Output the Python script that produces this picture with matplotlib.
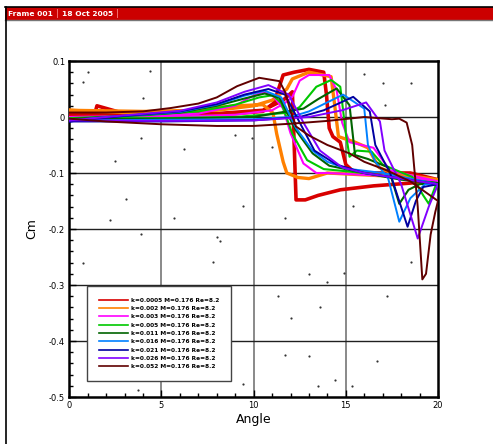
import numpy as np
import matplotlib.pyplot as plt
from matplotlib.patches import Rectangle
from matplotlib.lines import Line2D

# loops: upstroke 0 -> 20 then downstroke 20 -> 0
red_a = [0, 1.4, 1.5, 3, 6, 9, 10.5, 11.1, 11.4, 11.6, 12.2, 13.0, 13.8, 13.95, 14.1, 14.3, 14.7, 15.0, 15.5, 17, 18.5, 20,
         18.5, 16.5, 14.7, 13.5, 12.8, 12.3, 12.2, 12.1, 11.6, 10.5, 8, 4, 0]
red_c = [0.008, 0.008, 0.02, 0.006, 0.005, 0.006, 0.01, 0.025, 0.055, 0.075, 0.08, 0.085, 0.08, 0.04, -0.02, -0.035, -0.045, -0.085, -0.1, -0.1, -0.1, -0.112,
         -0.118, -0.123, -0.13, -0.14, -0.148, -0.148, -0.05, 0.045, 0.03, 0.012, 0.006, 0.004, 0.005]

orange_a = [0, 4, 8, 10, 11, 11.8, 12.1, 13, 14.2, 14.4, 14.6, 15.5, 16.2, 16.8, 17.5, 20,
            17, 14, 13, 12.4, 11.8, 11.6, 11.25, 11.05, 10.5, 9, 6, 3, 0]
orange_c = [0.012, 0.01, 0.012, 0.02, 0.03, 0.05, 0.068, 0.08, 0.072, 0.02, -0.035, -0.045, -0.055, -0.09, -0.1, -0.112,
            -0.105, -0.1, -0.11, -0.108, -0.1, -0.08, -0.03, 0.007, 0.022, 0.02, 0.01, 0.008, 0.012]

magenta_a = [0, 5, 9, 11, 11.7, 12.1, 12.5, 13.0, 14.1, 14.5, 14.8, 15.2, 16.5, 17.4, 18, 20,
             17, 14, 13.4, 12.7, 12.0, 11.6, 11.0, 10.5, 9.8, 9, 7, 4, 0]
magenta_c = [0.0, 0.0, 0.004, 0.012, 0.025, 0.036, 0.065, 0.075, 0.075, 0.048, -0.01, -0.045, -0.055, -0.095, -0.1, -0.115,
             -0.105, -0.1, -0.1, -0.083, -0.029, 0.015, 0.04, 0.045, 0.035, 0.02, 0.006, 0.002, 0.0]

green_a = [0, 5, 9, 12, 12.5, 13.4, 14.2, 14.7, 15.0, 15.2, 15.6, 16.4, 17.0, 18.6, 19.2, 19.5, 19.9, 20,
           18, 16, 13.8, 12.9, 12.1, 11.5, 11.05, 10.3, 9, 7, 4, 0]
green_c = [-0.002, -0.002, 0.0, 0.008, 0.018, 0.054, 0.066, 0.054, -0.029, -0.071, -0.06, -0.062, -0.085, -0.107, -0.14, -0.155, -0.12, -0.118,
           -0.11, -0.1, -0.093, -0.077, -0.03, 0.025, 0.039, 0.035, 0.022, 0.01, 0.003, -0.002]

dkgreen_a = [0, 5, 10, 12.7, 13.5, 14.5, 15.2, 15.5, 16.2, 17.3, 17.9, 18.4, 19.0, 20,
             18, 16, 14.1, 13.2, 12.3, 11.4, 10.6, 9.5, 8, 6, 3, 0]
dkgreen_c = [-0.004, -0.003, 0.0, 0.015, 0.032, 0.051, 0.021, -0.068, -0.075, -0.09, -0.155, -0.13, -0.12, -0.118,
             -0.112, -0.1, -0.087, -0.065, -0.024, 0.034, 0.042, 0.033, 0.02, 0.008, 0.002, -0.004]

ltblue_a = [0, 5, 10, 12, 13, 14.85, 16.0, 16.2, 16.6, 17.3, 17.9, 18.5, 19.3, 20,
            17, 15, 14, 13.2, 12.3, 11.5, 10.6, 9.5, 8, 6, 3, 0]
ltblue_c = [-0.006, -0.005, -0.004, 0.0, 0.01, 0.04, 0.015, -0.05, -0.08, -0.11, -0.187, -0.145, -0.12, -0.12,
            -0.1, -0.092, -0.08, -0.06, -0.02, 0.035, 0.047, 0.038, 0.022, 0.009, 0.002, -0.006]

blue_a = [0, 5, 10, 12.5, 13.8, 15.4, 16.3, 16.6, 17.4, 18.35, 18.8, 19.2, 20,
          16, 14.5, 13.3, 12.5, 11.7, 10.8, 9.5, 8, 6, 3, 0]
blue_c = [-0.008, -0.008, -0.006, 0.0, 0.012, 0.036, 0.01, -0.05, -0.1, -0.196, -0.15, -0.125, -0.12,
          -0.1, -0.085, -0.06, -0.01, 0.04, 0.05, 0.04, 0.023, 0.01, 0.002, -0.008]

purple_a = [0, 5, 10, 13, 14.8, 16.1, 16.85, 17.1, 18.0, 18.9, 19.5, 20,
            16, 14.8, 13.6, 12.7, 11.9, 10.8, 9.5, 8, 6, 3, 0]
purple_c = [-0.006, -0.007, -0.006, 0.0, 0.012, 0.026, -0.008, -0.06, -0.12, -0.217, -0.16, -0.12,
            -0.1, -0.09, -0.06, -0.01, 0.04, 0.057, 0.045, 0.026, 0.011, 0.003, -0.006]

brown_a = [0, 2, 5, 8, 10, 12, 14, 16, 17.5, 17.9, 18.3, 18.6, 18.9, 19.15, 19.35, 19.6, 19.85, 20,
           19.4, 18.5, 17.2, 16, 15.2, 14, 13, 12.3, 12, 11.7, 11.4, 10.3, 9.1, 8, 7, 5.5, 4, 2, 0]
brown_c = [-0.003, -0.008, -0.013, -0.016, -0.016, -0.012, -0.007, 0.0, -0.004, -0.003, -0.01, -0.05, -0.16, -0.29, -0.28, -0.21, -0.17, -0.15,
           -0.136, -0.115, -0.095, -0.08, -0.065, -0.05, -0.033, -0.017, 0.01, 0.045, 0.064, 0.07, 0.055, 0.035, 0.024, 0.016, 0.01, 0.008, 0.008]

curves = [
    (red_a, red_c, "#d80000", "k=0.0005 M=0.176 Re=8.2"),
    (orange_a, orange_c, "#ff8000", "k=0.002 M=0.176 Re=8.2"),
    (magenta_a, magenta_c, "#ff00ff", "k=0.003 M=0.176 Re=8.2"),
    (green_a, green_c, "#00c800", "k=0.005 M=0.176 Re=8.2"),
    (dkgreen_a, dkgreen_c, "#006400", "k=0.011 M=0.176 Re=8.2"),
    (ltblue_a, ltblue_c, "#0080ff", "k=0.016 M=0.176 Re=8.2"),
    (blue_a, blue_c, "#0000a0", "k=0.021 M=0.176 Re=8.2"),
    (purple_a, purple_c, "#8000ff", "k=0.026 M=0.176 Re=8.2"),
    (brown_a, brown_c, "#600000", "k=0.052 M=0.176 Re=8.2"),
]
widths = [2.6, 2.4, 1.5, 1.5, 1.5, 1.4, 1.4, 1.4, 1.4]

# stray points scattered over the plot
dot_a = [1.0, 0.73, 4.4, 4.0, 3.9, 6.2, 2.5, 3.1, 9.0, 9.9, 16.0, 17.0, 18.55, 17.15, 11.0,
         9.4, 11.7, 15.4, 18.55, 13.0, 14.0, 14.9, 11.3, 17.25, 13.6, 0.74, 2.2, 8.0, 8.2,
         5.7, 7.8, 3.9, 6.9, 6.05, 3.7, 9.4, 11.7, 13.0, 13.5, 14.4, 16.7, 12.0, 15.36]
dot_c = [0.08, 0.062, 0.082, 0.034, -0.038, -0.057, -0.079, -0.147, -0.033, -0.038, 0.077, 0.061, 0.061, 0.021, -0.053,
         -0.159, -0.18, -0.159, -0.259, -0.28, -0.295, -0.279, -0.319, -0.319, -0.339, -0.26, -0.184, -0.214, -0.221,
         -0.18, -0.259, -0.209, -0.386, -0.43, -0.487, -0.477, -0.425, -0.427, -0.48, -0.47, -0.436, -0.359, -0.48]

fig = plt.figure(figsize=(4.93, 4.44), dpi=100)

# frame header bar
fig.patches.append(Rectangle((5 / 493, 1 - 20 / 444), 1, 13 / 444, transform=fig.transFigure,
                             facecolor="#cc0000", edgecolor="none"))
fig.add_artist(Line2D([5 / 493, 1], [1 - 7 / 444] * 2, color="black", lw=1.2))
fig.add_artist(Line2D([5 / 493, 1], [1 - 20 / 444] * 2, color="#777777", lw=1.0))
fig.add_artist(Line2D([5.5 / 493] * 2, [0, 1 - 7 / 444], color="black", lw=1.2))
fig.text(8 / 493, 1 - 14 / 444, "Frame 001", color="white", fontsize=5.4, fontweight="bold", va="center")
fig.text(56 / 493, 1 - 14 / 444, "|", color="#ff9090", fontsize=6.5, va="center")
fig.text(62 / 493, 1 - 14 / 444, "18 Oct 2005", color="white", fontsize=5.4, fontweight="bold", va="center")
fig.text(116 / 493, 1 - 14 / 444, "|", color="#ff9090", fontsize=6.5, va="center")

ax = fig.add_axes([69.3 / 493, 1 - 397 / 444, 368.7 / 493, 336 / 444])

for x in [5, 10, 15]:
    ax.axvline(x, color="#808080", lw=1.3, zorder=1)
for y in [0, -0.1, -0.2, -0.3, -0.4]:
    ax.axhline(y, color="#202020", lw=1.0, zorder=1)

for (a, c, col, lab), w in zip(curves, widths):
    ax.plot(a, c, color=col, lw=w, label=lab, zorder=3, solid_joinstyle="round")

ax.scatter(dot_a, dot_c, s=2.5, color="#333333", zorder=2, linewidths=0)

ax.set_xlim(0, 20)
ax.set_ylim(-0.5, 0.1)
ax.set_xticks([0, 5, 10, 15, 20])
ax.set_xticks(np.arange(0, 21, 1), minor=True)
ax.set_yticks([-0.5, -0.4, -0.3, -0.2, -0.1, 0, 0.1])
ax.set_yticklabels(["-0.5", "-0.4", "-0.3", "-0.2", "-0.1", "0", "0.1"])
ax.set_yticks(np.arange(-0.5, 0.101, 0.02), minor=True)
ax.tick_params(which="both", direction="in", labelsize=6, width=1.0, pad=3)
ax.tick_params(which="major", length=5)
ax.tick_params(which="minor", length=3)
for s in ax.spines.values():
    s.set_linewidth(1.8)
ax.set_xlabel("Angle", fontsize=9, labelpad=2)
ax.set_ylabel("Cm", fontsize=9, labelpad=8)

leg = ax.legend(loc="lower left", bbox_to_anchor=(0.048, 0.048), prop={"size": 4.2, "weight": "bold"},
                handlelength=5.0, handletextpad=0.5, labelspacing=0.55, borderpad=2.0,
                fancybox=False, framealpha=1, edgecolor="#444444", borderaxespad=0)
leg.get_frame().set_linewidth(1.0)
for h in leg.get_lines():
    h.set_linewidth(1.2)

fig.savefig("out.png", dpi=100)
